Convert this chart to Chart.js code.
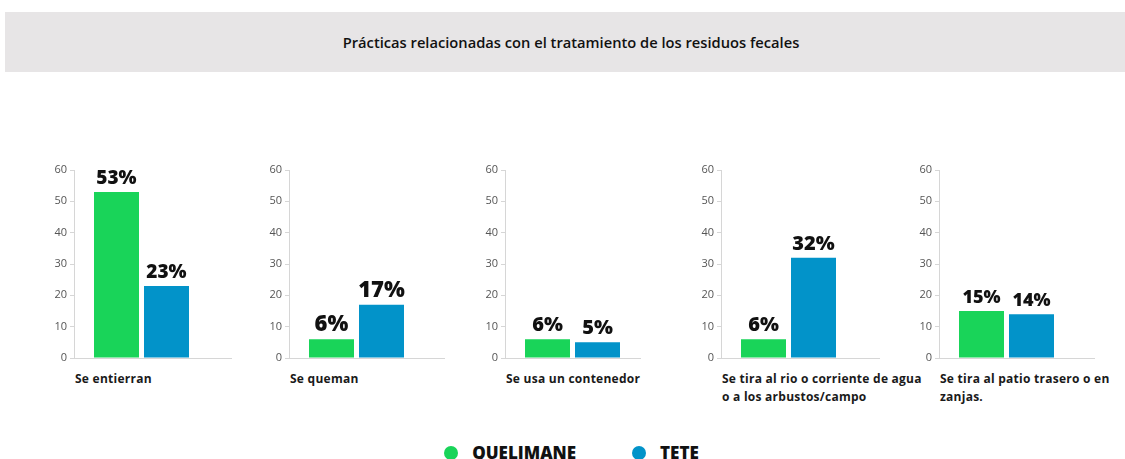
<!DOCTYPE html>
<html>
<head>
<meta charset="utf-8">
<script src="https://cdn.jsdelivr.net/npm/chart.js@4"></script>
<style>
  body { margin: 0; background: #fff; width: 1125px; height: 459px; overflow: hidden; position: relative; font-family: "Open Sans", sans-serif; }
  #titleBand { position: absolute; left: 5px; top: 12px; width: 1120px; height: 60px; background: #e7e5e6; display: flex; align-items: center; justify-content: center; }
  #titleBand span { font-size: 14.7px; font-weight: 600; color: #111; margin-left: 12px; }
  .panel { position: absolute; top: 150px; width: 200px; height: 220px; }
  .catLabel { position: absolute; top: 370px; font-size: 12px; letter-spacing: 0.25px; font-weight: 700; color: #1a1a1a; line-height: 18px; white-space: nowrap; }
  #legend { position: absolute; top: 441px; left: 0; width: 1143px; display: flex; justify-content: center; gap: 56px; }
  .legItem { display: flex; align-items: center; gap: 14px; font-size: 17px; font-weight: 800; color: #111; }
  .dot { width: 14px; height: 14px; border-radius: 50%; }
</style>
</head>
<body>
<div id="titleBand"><span id="title"></span></div>
<div id="charts"></div>
<div id="legend"></div>

<script>
const titleText = 'Prácticas relacionadas con el tratamiento de los residuos fecales';
const categories = [
  ['Se entierran'],
  ['Se queman'],
  ['Se usa un contenedor'],
  ['Se tira al rio o corriente de agua', 'o a los arbustos/campo'],
  ['Se tira al patio trasero o en', 'zanjas.']
];
const seriesNames = ['QUELIMANE', 'TETE'];
const quelimane = [53, 6, 6, 6, 15];
const tete = [23, 17, 5, 32, 14];
const yTicks = [0, 10, 20, 30, 40, 50, 60];

const colors = ['#19d459', '#0293c9'];
// layout per panel
const axisX = [74, 289, 505, 721, 939];
const axisLen = [158, 156, 122, 159, 156];
const valueFont = [19, 22, 20, 20, 18];

document.getElementById('title').textContent = titleText;

// legend
const legend = document.getElementById('legend');
seriesNames.forEach((name, i) => {
  const item = document.createElement('div');
  item.className = 'legItem';
  item.innerHTML = '<div class="dot" style="background:' + colors[i] + '"></div><span>' + name + '</span>';
  legend.appendChild(item);
});

// draws the "53%" labels on top of the bars
const valueLabels = {
  id: 'valueLabels',
  afterDatasetsDraw(chart, args, opts) {
    const ctx = chart.ctx;
    ctx.save();
    ctx.font = '800 ' + opts.size + 'px "Open Sans"';
    ctx.fillStyle = '#111';
    ctx.textAlign = 'center';
    ctx.textBaseline = 'alphabetic';
    chart.data.datasets.forEach((ds, di) => {
      chart.getDatasetMeta(di).data.forEach((bar, i) => {
        ctx.fillText(ds.data[i] + '%', bar.x, bar.y - 8);
      });
    });
    ctx.restore();
  }
};

// the baseline runs a bit further right than the plot area
const longBase = {
  id: 'longBase',
  afterDraw(chart, args, opts) {
    const ctx = chart.ctx;
    const a = chart.chartArea;
    const y = Math.round(a.bottom) + 0.5;
    ctx.save();
    ctx.strokeStyle = '#d6d6d6';
    ctx.lineWidth = 1;
    ctx.beginPath();
    ctx.moveTo(a.right, y);
    ctx.lineTo(a.left + opts.len, y);
    ctx.stroke();
    ctx.restore();
  }
};

const chartsDiv = document.getElementById('charts');
categories.forEach((cat, i) => {
  const panel = document.createElement('div');
  panel.className = 'panel';
  panel.style.left = (axisX[i] - 30) + 'px';
  const canvas = document.createElement('canvas');
  panel.appendChild(canvas);
  chartsDiv.appendChild(panel);

  const lab = document.createElement('div');
  lab.className = 'catLabel';
  lab.style.left = (axisX[i] + 1) + 'px';
  lab.innerHTML = cat.join('<br>');
  chartsDiv.appendChild(lab);

  new Chart(canvas.getContext('2d'), {
    type: 'bar',
    data: {
      labels: [cat.join(' ')],
      datasets: [
        { label: seriesNames[0], data: [quelimane[i]], backgroundColor: colors[0] },
        { label: seriesNames[1], data: [tete[i]], backgroundColor: colors[1] }
      ]
    },
    options: {
      responsive: true,
      maintainAspectRatio: false,
      animation: false,
      layout: { padding: { top: 20, bottom: 12, right: 35, left: 0 } },
      categoryPercentage: 100 / 135,
      barPercentage: 0.9,
      plugins: {
        legend: { display: false },
        tooltip: { enabled: false },
        valueLabels: { size: valueFont[i] },
        longBase: { len: axisLen[i] }
      },
      scales: {
        x: {
          grid: { display: false },
          ticks: { display: false },
          border: { color: '#d6d6d6' },
          afterFit: s => { s.height = 0; }
        },
        y: {
          min: 0,
          max: 60,
          afterBuildTicks: s => { s.ticks = yTicks.map(v => ({ value: v })); },
          grid: { drawOnChartArea: false, color: '#d6d6d6', tickLength: 4 },
          border: { color: '#d6d6d6' },
          ticks: { color: '#555', font: { size: 11, family: 'Open Sans' }, padding: 3 },
          afterFit: s => { s.width = 30; }
        }
      }
    },
    plugins: [valueLabels, longBase]
  });
});
</script>
</body>
</html>
